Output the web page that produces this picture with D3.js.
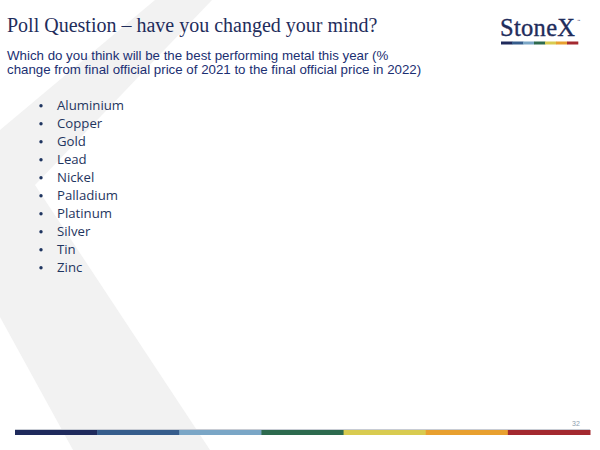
<!DOCTYPE html>
<html>
<head>
<meta charset="utf-8">
<script src="https://cdn.jsdelivr.net/npm/d3@7"></script>
<style>
  body { margin: 0; background: #fff; }
  svg { display: block; }
</style>
</head>
<body>
<svg id="slide" width="600" height="450"></svg>
<script>
// slide content
const title = 'Poll Question \u2013 have you changed your mind?';
const subtitleLines = [
    'Which do you think will be the best performing metal this year (%',
    'change from final official price of 2021 to the final official price in 2022)'
];
const metals = ['Aluminium', 'Copper', 'Gold', 'Lead', 'Nickel', 'Palladium', 'Platinum', 'Silver', 'Tin', 'Zinc'];
const stripeColors = ['#1f2a5c', '#365d8c', '#7aa6c6', '#2d6a4e', '#d8cb50', '#e8a02f', '#a3292f'];
const pageNumber = '32';

// watermark X outline (decoration only)
const watermark = [[155, 0], [212, 0], [35, 185], [210, 450], [73, 450], [0, 317], [0, 130]];

const svg = d3.select('#slide');
const navy = '#1f2d5c';

svg.append('path')
    .attr('d', d3.line()(watermark) + 'Z')
    .attr('fill', '#f2f2f2');

// title + question
svg.append('text')
    .attr('x', 7).attr('y', 32)
    .attr('font-family', 'Liberation Serif')
    .attr('font-size', 20)
    .attr('fill', navy)
    .text(title);

svg.append('g')
    .selectAll('text')
    .data(subtitleLines)
    .enter()
    .append('text')
        .attr('x', 7)
        .attr('y', (d, i) => 60 + i * 13.8)
        .attr('font-family', 'Liberation Sans')
        .attr('font-size', 13.3)
        .attr('fill', '#1b2f72')
        .text(d => d);

// bullet list
const y = d3.scalePoint().domain(metals).range([110, 272]);
const items = svg.append('g')
    .selectAll('g')
    .data(metals)
    .enter()
    .append('g')
        .attr('transform', d => `translate(0,${y(d)})`);
items.append('circle')
    .attr('cx', 41).attr('cy', -4.2).attr('r', 1.7)
    .attr('fill', '#1f3560');
items.append('text')
    .attr('x', 57)
    .attr('font-family', 'Open Sans')
    .attr('font-size', 13.2)
    .attr('fill', '#1f3560')
    .text(d => d);

// colour stripe at the bottom
const x = d3.scaleBand().domain(d3.range(stripeColors.length)).range([15, 590]);
svg.append('rect')
    .attr('x', 15).attr('y', 429).attr('width', 575).attr('height', 1)
    .attr('fill', '#c8ccd4');
svg.append('g')
    .selectAll('rect')
    .data(stripeColors)
    .enter()
    .append('rect')
        .attr('x', (d, i) => x(i))
        .attr('y', 430)
        .attr('width', x.bandwidth() + 0.5)
        .attr('height', 5)
        .attr('fill', d => d);

svg.append('text')
    .attr('x', 572).attr('y', 426)
    .attr('font-family', 'Liberation Sans')
    .attr('font-size', 7)
    .attr('fill', '#8d9eae')
    .text(pageNumber);

// logo
const logo = svg.append('g').attr('transform', 'translate(500,0)');
logo.append('text')
    .attr('x', 0).attr('y', 36)
    .attr('font-family', 'Liberation Serif')
    .attr('font-size', 24.5)
    .attr('textLength', 75)
    .attr('fill', navy)
    .attr('stroke', navy)
    .attr('stroke-width', 0.35)
    .text('StoneX');
logo.append('text')
    .attr('x', 77).attr('y', 22)
    .attr('font-family', 'Liberation Sans')
    .attr('font-size', 3.5)
    .attr('fill', navy)
    .text('\u2122');
const lx = d3.scaleBand().domain(d3.range(stripeColors.length)).range([1, 78]);
logo.append('g')
    .selectAll('rect')
    .data(stripeColors)
    .enter()
    .append('rect')
        .attr('x', (d, i) => lx(i))
        .attr('y', 41.5)
        .attr('width', lx.bandwidth() + 0.3)
        .attr('height', 3)
        .attr('fill', d => d);
</script>
</body>
</html>
